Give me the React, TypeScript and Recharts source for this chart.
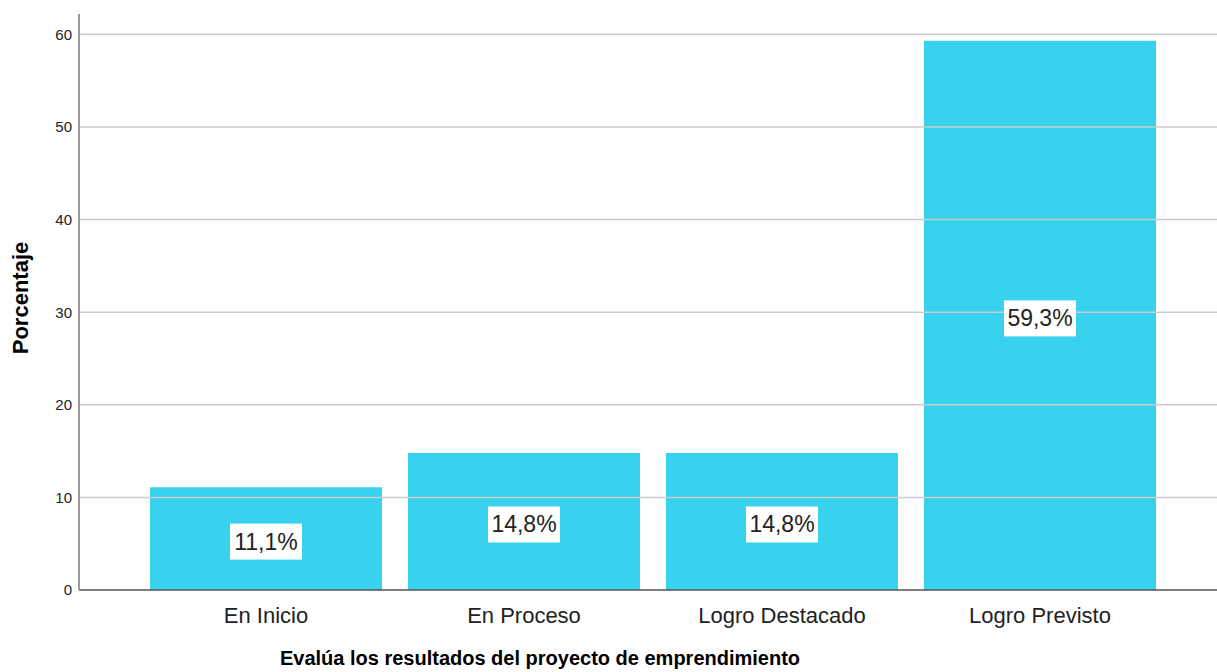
import { BarChart, Bar, XAxis, YAxis, ReferenceLine, LabelList, Label } from "recharts";

const categories = ["En Inicio", "En Proceso", "Logro Destacado", "Logro Previsto"];
const percents = [11.1, 14.8, 14.8, 59.3];
const yTicks = [0, 10, 20, 30, 40, 50, 60];

const BAR = "#38d1ee";
const GRID = "#cccccc";
const FONT = "'Liberation Sans', Arial, sans-serif";

const data = categories.map((name, i) => ({ name, value: percents[i] }));

function ValueBox(props: any) {
  const { x, y, width, height, value } = props;
  const cx = x + width / 2;
  const cy = y + height / 2 + 3;
  const text = `${String(value).replace(".", ",")}%`;
  return (
    <g>
      <rect x={cx - 36} y={cy - 18} width={72} height={36} fill="#ffffff" />
      <text
        x={cx}
        y={cy}
        textAnchor="middle"
        dominantBaseline="central"
        fontFamily={FONT}
        fontSize={23}
        fill="#222"
      >
        {text}
      </text>
    </g>
  );
}

export default function App() {
  return (
    <div style={{ position: "absolute", left: 0, top: 0, background: "#fff" }}>
      <BarChart
        width={1217}
        height={672}
        data={data}
        margin={{ top: 14, right: 0, bottom: 32, left: 0 }}
      >
        {yTicks
          .filter((t) => t > 0)
          .map((t) => (
            <ReferenceLine key={t} y={t} stroke={GRID} strokeWidth={1.5} />
          ))}
        <XAxis
          dataKey="name"
          padding={{ left: 58, right: 48 }}
          tickLine={false}
          axisLine={{ stroke: "#555", strokeWidth: 1.5 }}
          tick={{ fill: "#222", fontSize: 22, fontFamily: FONT }}
          tickMargin={11}
          height={50}
          interval={0}
        >
          <Label
            content={() => (
              <text
                x={540}
                y={665}
                textAnchor="middle"
                fontFamily={FONT}
                fontWeight="bold"
                fontSize={20}
                fill="#000"
              >
                Evalúa los resultados del proyecto de emprendimiento
              </text>
            )}
          />
        </XAxis>
        <YAxis
          domain={[0, 62.2]}
          ticks={yTicks}
          width={79}
          tickLine={false}
          tickSize={0}
          tickMargin={7}
          axisLine={{ stroke: "#999", strokeWidth: 2 }}
          tick={{ fill: "#222", fontSize: 15, fontFamily: FONT }}
          allowDataOverflow
        >
          <Label
            content={() => (
              <text
                x={28}
                y={298}
                transform="rotate(-90 28 298)"
                textAnchor="middle"
                fontFamily={FONT}
                fontWeight="bold"
                fontSize={22}
                fill="#000"
              >
                Porcentaje
              </text>
            )}
          />
        </YAxis>
        <Bar dataKey="value" fill={BAR} barSize={232} isAnimationActive={false}>
          <LabelList dataKey="value" content={<ValueBox />} />
        </Bar>
      </BarChart>
    </div>
  );
}
